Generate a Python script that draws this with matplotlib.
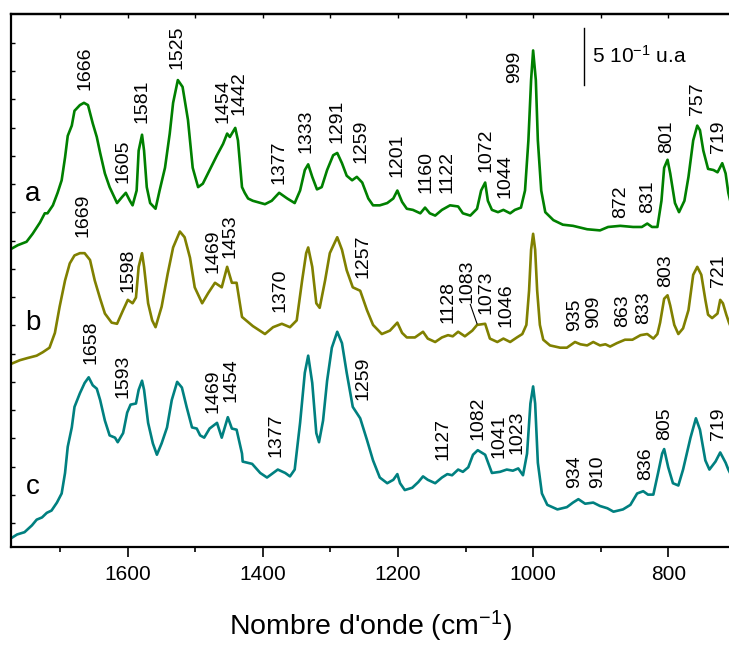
import numpy as np
import matplotlib.pyplot as plt

plt.rcParams['font.family'] = ['Liberation Sans', 'DejaVu Sans']
plt.rcParams['mathtext.default'] = 'regular'

# spectrum a (green), wavenumber cm-1 / intensity u.a. (stacked)
a_wn = [1772, 1763, 1750, 1741, 1730, 1723, 1719, 1711, 1704, 1698, 1693, 1689, 1683, 1679,
        1671, 1665, 1659, 1652, 1646, 1641, 1634, 1627, 1616, 1609, 1603, 1597, 1593, 1587,
        1584, 1579, 1576, 1572, 1567, 1559, 1553, 1545, 1538, 1533, 1526, 1519, 1511, 1504,
        1496, 1489, 1479, 1468, 1459, 1453, 1449, 1441, 1437, 1431, 1427, 1422, 1415, 1397,
        1387, 1376, 1364, 1353, 1345, 1338, 1333, 1327, 1320, 1313, 1305, 1296, 1290, 1283,
        1276, 1268, 1261, 1253, 1244, 1237, 1227, 1216, 1207, 1201, 1194, 1187, 1178, 1167,
        1160, 1153, 1145, 1135, 1123, 1111, 1104, 1093, 1083, 1077, 1071, 1067, 1061, 1052,
        1044, 1034, 1027, 1018, 1012, 1007, 1003, 1000, 996, 993, 988, 982, 970, 956, 941,
        920, 901, 889, 871, 852, 839, 831, 824, 816, 810, 806, 801, 797, 790, 784, 776, 770,
        763, 757, 753, 748, 741, 733, 727, 720, 715, 711, 705]
a_int = [2.62, 2.65, 2.68, 2.75, 2.85, 2.93, 2.93, 3.00, 3.11, 3.22, 3.42, 3.61, 3.70, 3.83,
         3.88, 3.90, 3.88, 3.72, 3.60, 3.46, 3.28, 3.16, 3.02, 3.07, 3.11, 3.04, 3.00, 3.13,
         3.48, 3.62, 3.48, 3.16, 3.02, 2.97, 3.13, 3.33, 3.63, 3.90, 4.10, 4.04, 3.75, 3.33,
         3.16, 3.19, 3.31, 3.44, 3.54, 3.63, 3.60, 3.68, 3.57, 3.16, 3.11, 3.06, 3.04, 3.01,
         3.04, 3.11, 3.06, 3.02, 3.13, 3.31, 3.36, 3.25, 3.14, 3.16, 3.31, 3.44, 3.46, 3.37,
         3.26, 3.22, 3.25, 3.20, 3.06, 3.00, 3.00, 3.02, 3.06, 3.13, 3.03, 2.97, 2.96, 2.93,
         2.98, 2.93, 2.91, 2.96, 3.00, 2.99, 2.93, 2.91, 2.97, 3.13, 3.20, 3.04, 2.96, 2.94,
         2.96, 2.93, 2.96, 2.98, 3.13, 3.57, 4.10, 4.36, 4.10, 3.57, 3.13, 2.94, 2.87, 2.83, 2.82,
         2.79, 2.78, 2.81, 2.82, 2.81, 2.81, 2.84, 2.81, 2.81, 3.04, 3.33, 3.40, 3.28, 3.02, 2.94,
         3.04, 3.25, 3.57, 3.70, 3.66, 3.48, 3.32, 3.31, 3.29, 3.37, 3.28, 3.11, 2.96]

# spectrum b (olive)
b_wn = [1772, 1760, 1748, 1735, 1726, 1716, 1708, 1701, 1693, 1686, 1679, 1671, 1664, 1656,
        1649, 1641, 1634, 1624, 1616, 1607, 1600, 1593, 1588, 1584, 1579, 1576, 1570, 1564,
        1559, 1550, 1541, 1533, 1523, 1516, 1508, 1501, 1490, 1481, 1471, 1461, 1453, 1446,
        1439, 1431, 1415, 1397, 1385, 1372, 1360, 1350, 1342, 1336, 1333, 1327, 1321, 1316,
        1308, 1301, 1290, 1283, 1276, 1267, 1256, 1246, 1237, 1224, 1212, 1201, 1194, 1187,
        1175, 1163, 1156, 1145, 1135, 1126, 1119, 1111, 1101, 1090, 1083, 1071, 1064, 1053,
        1044, 1034, 1024, 1016, 1010, 1006, 1003, 1000, 997, 994, 990, 985, 975, 960, 950,
        938, 930, 920, 911, 901, 893, 886, 876, 864, 853, 841, 831, 822, 816, 812, 806, 801,
        797, 791, 785, 778, 770, 763, 757, 751, 745, 741, 735, 727, 723, 719, 714, 710, 705]
b_int = [1.61, 1.64, 1.66, 1.68, 1.71, 1.75, 1.88, 2.11, 2.34, 2.49, 2.56, 2.58, 2.58, 2.52,
         2.34, 2.18, 2.05, 1.97, 1.96, 2.08, 2.17, 2.14, 2.19, 2.46, 2.58, 2.46, 2.14, 1.99,
         1.93, 2.11, 2.40, 2.63, 2.77, 2.72, 2.54, 2.28, 2.14, 2.23, 2.32, 2.28, 2.46, 2.32,
         2.32, 2.02, 1.94, 1.87, 1.93, 1.96, 1.93, 1.99, 2.34, 2.58, 2.63, 2.46, 2.14, 2.10,
         2.34, 2.58, 2.72, 2.61, 2.43, 2.28, 2.25, 2.08, 1.95, 1.87, 1.90, 1.97, 1.88, 1.84,
         1.84, 1.89, 1.83, 1.80, 1.84, 1.86, 1.85, 1.89, 1.85, 1.90, 1.95, 1.96, 1.83, 1.80,
         1.83, 1.80, 1.84, 1.87, 1.95, 2.25, 2.61, 2.75, 2.61, 2.25, 1.95, 1.82, 1.77, 1.75, 1.75,
         1.80, 1.78, 1.77, 1.80, 1.77, 1.78, 1.76, 1.79, 1.82, 1.82, 1.86, 1.87, 1.83, 1.87, 1.97,
         2.18, 2.21, 2.12, 1.95, 1.87, 1.92, 2.08, 2.39, 2.46, 2.39, 2.17, 2.04, 2.01, 2.05,
         2.17, 2.14, 2.04, 1.97, 1.90]

# spectrum c (teal)
c_wn = [1772, 1764, 1753, 1742, 1735, 1727, 1720, 1713, 1705, 1698, 1693, 1689, 1683, 1679,
        1671, 1664, 1658, 1652, 1646, 1641, 1634, 1627, 1619, 1615, 1607, 1601, 1596, 1588,
        1584, 1579, 1576, 1570, 1563, 1557, 1550, 1542, 1535, 1527, 1520, 1513, 1505, 1498,
        1493, 1487, 1479, 1468, 1461, 1452, 1446, 1439, 1431, 1430, 1416, 1404, 1394, 1385,
        1378, 1367, 1360, 1353, 1345, 1338, 1333, 1327, 1321, 1317, 1311, 1305, 1298, 1290,
        1283, 1276, 1267, 1256, 1246, 1237, 1227, 1216, 1207, 1201, 1197, 1190, 1179, 1170,
        1163, 1156, 1145, 1135, 1127, 1120, 1111, 1104, 1096, 1089, 1082, 1071, 1061, 1049,
        1039, 1030, 1022, 1015, 1009, 1004, 1000, 997, 993, 987, 979, 964, 950, 941, 933, 923,
        911, 901, 890, 881, 867, 856, 846, 837, 830, 822, 815, 809, 806, 800, 793, 785, 778,
        767, 759, 753, 745, 739, 730, 723, 715, 711, 705]
c_int = [0.08, 0.11, 0.13, 0.19, 0.24, 0.26, 0.30, 0.32, 0.39, 0.47, 0.65, 0.88, 1.05, 1.23,
         1.35, 1.44, 1.49, 1.42, 1.39, 1.29, 1.11, 0.98, 0.96, 0.92, 1.00, 1.18, 1.25, 1.26,
         1.38, 1.46, 1.38, 1.09, 0.91, 0.81, 0.91, 1.05, 1.29, 1.45, 1.40, 1.23, 1.05, 1.04,
         0.98, 0.96, 1.04, 1.09, 0.96, 1.14, 1.04, 1.03, 0.82, 0.75, 0.73, 0.65, 0.61, 0.65,
         0.68, 0.65, 0.62, 0.68, 1.09, 1.53, 1.68, 1.44, 1.00, 0.92, 1.11, 1.46, 1.75, 1.89,
         1.79, 1.53, 1.23, 1.13, 0.94, 0.76, 0.61, 0.56, 0.59, 0.64, 0.56, 0.50, 0.52, 0.57,
         0.62, 0.59, 0.56, 0.61, 0.64, 0.63, 0.68, 0.66, 0.70, 0.81, 0.85, 0.81, 0.65, 0.66,
         0.68, 0.67, 0.69, 0.63, 0.82, 1.26, 1.41, 1.26, 0.74, 0.47, 0.37, 0.33, 0.35, 0.39, 0.42,
         0.38, 0.39, 0.36, 0.34, 0.31, 0.33, 0.37, 0.47, 0.49, 0.46, 0.46, 0.65, 0.82, 0.86, 0.70,
         0.56, 0.54, 0.68, 0.96, 1.13, 1.03, 0.76, 0.68, 0.75, 0.83, 0.74, 0.68, 0.61]

# band labels: text, x (cm-1), y (u.a.) of label base
a_labels = [('1666', 1664, 4.01), ('1605', 1607, 3.20), ('1581', 1579, 3.72), ('1525', 1527, 4.20),
            ('1454', 1459, 3.72), ('1442', 1436, 3.79), ('1377', 1376, 3.19), ('1333', 1336, 3.46),
            ('1291', 1290, 3.55), ('1259', 1255, 3.37), ('1201', 1201, 3.25), ('1160', 1158, 3.11),
            ('1122', 1127, 3.11), ('1072', 1070, 3.29), ('1044', 1041, 3.06), ('999', 1027, 4.07),
            ('872', 871, 2.89), ('831', 831, 2.93), ('801', 803, 3.46), ('757', 757, 3.79),
            ('719', 726, 3.46)]
b_labels = [('1669', 1667, 2.72), ('1598', 1600, 2.24), ('1469', 1474, 2.41), ('1453', 1449, 2.54),
            ('1370', 1375, 2.06), ('1257', 1252, 2.36), ('1128', 1126, 1.97), ('1083', 1098, 2.14),
            ('1073', 1070, 2.05), ('1046', 1040, 1.93), ('935', 939, 1.90), ('909', 911, 1.92),
            ('863', 867, 1.93), ('833', 837, 1.96), ('803', 804, 2.28), ('721', 726, 2.28)]
c_labels = [('1658', 1655, 1.61), ('1593', 1607, 1.31), ('1469', 1474, 1.18), ('1454', 1447, 1.27),
            ('1377', 1381, 0.79), ('1259', 1252, 1.29), ('1127', 1133, 0.76), ('1082', 1081, 0.94),
            ('1041', 1050, 0.78), ('1023', 1024, 0.82), ('934', 938, 0.52), ('910', 905, 0.52),
            ('836', 834, 0.59), ('805', 806, 0.94), ('719', 726, 0.94)]

names = ['a', 'b', 'c']
name_y = [3.10, 1.97, 0.53]
colors = ['#008000', '#808000', '#008080']

fig = plt.figure(figsize=(7.29, 6.45), dpi=100)
ax = fig.add_axes([11/729, 98/645, 718/729, 533/645])

for wn, inten, col in zip([a_wn, b_wn, c_wn], [a_int, b_int, c_int], colors):
    ax.plot(wn, inten, color=col, lw=1.9, solid_joinstyle='round')

for labels in [a_labels, b_labels, c_labels]:
    for txt, x, y in labels:
        ax.text(x, y, txt, rotation=90, ha='center', va='bottom', fontsize=14)

# leader line for 1083 band
ax.plot([1093, 1083], [2.13, 1.96], color='k', lw=0.8)

for n, y in zip(names, name_y):
    ax.text(1741, y, n, ha='center', va='center', fontsize=20)

# intensity scale bar
ax.plot([924, 924], [4.06, 4.56], color='k', lw=1)
ax.text(913, 4.31, '5 10$^{-1}$ u.a', ha='left', va='center', fontsize=15)

ax.set_xlim(1773, 710)
ax.set_ylim(0, 4.68)
ax.set_xticks([1600, 1400, 1200, 1000, 800])
ax.set_xticks([1700, 1500, 1300, 1100, 900], minor=True)
ax.set_yticks(0.21 + 0.248*np.arange(18))
ax.set_yticklabels([])
ax.tick_params(axis='x', which='major', direction='out', length=7, width=1.2, labelsize=15, pad=6)
ax.tick_params(axis='x', which='minor', direction='out', length=3.5, width=1.2)
ax.tick_params(axis='y', direction='in', length=3, width=1)
ax.spines['right'].set_visible(False)
for s in ['left', 'top', 'bottom']:
    ax.spines[s].set_linewidth(1.6)

top = ax.secondary_xaxis('top')
top.set_xticks(range(1700, 700, -100))
top.tick_params(direction='in', length=3, width=1, labeltop=False)
top.spines['top'].set_linewidth(1.6)

ax.set_xlabel("Nombre d'onde (cm$^{-1}$)", fontsize=20.5, labelpad=18)

fig.savefig('out.png', dpi=100)
